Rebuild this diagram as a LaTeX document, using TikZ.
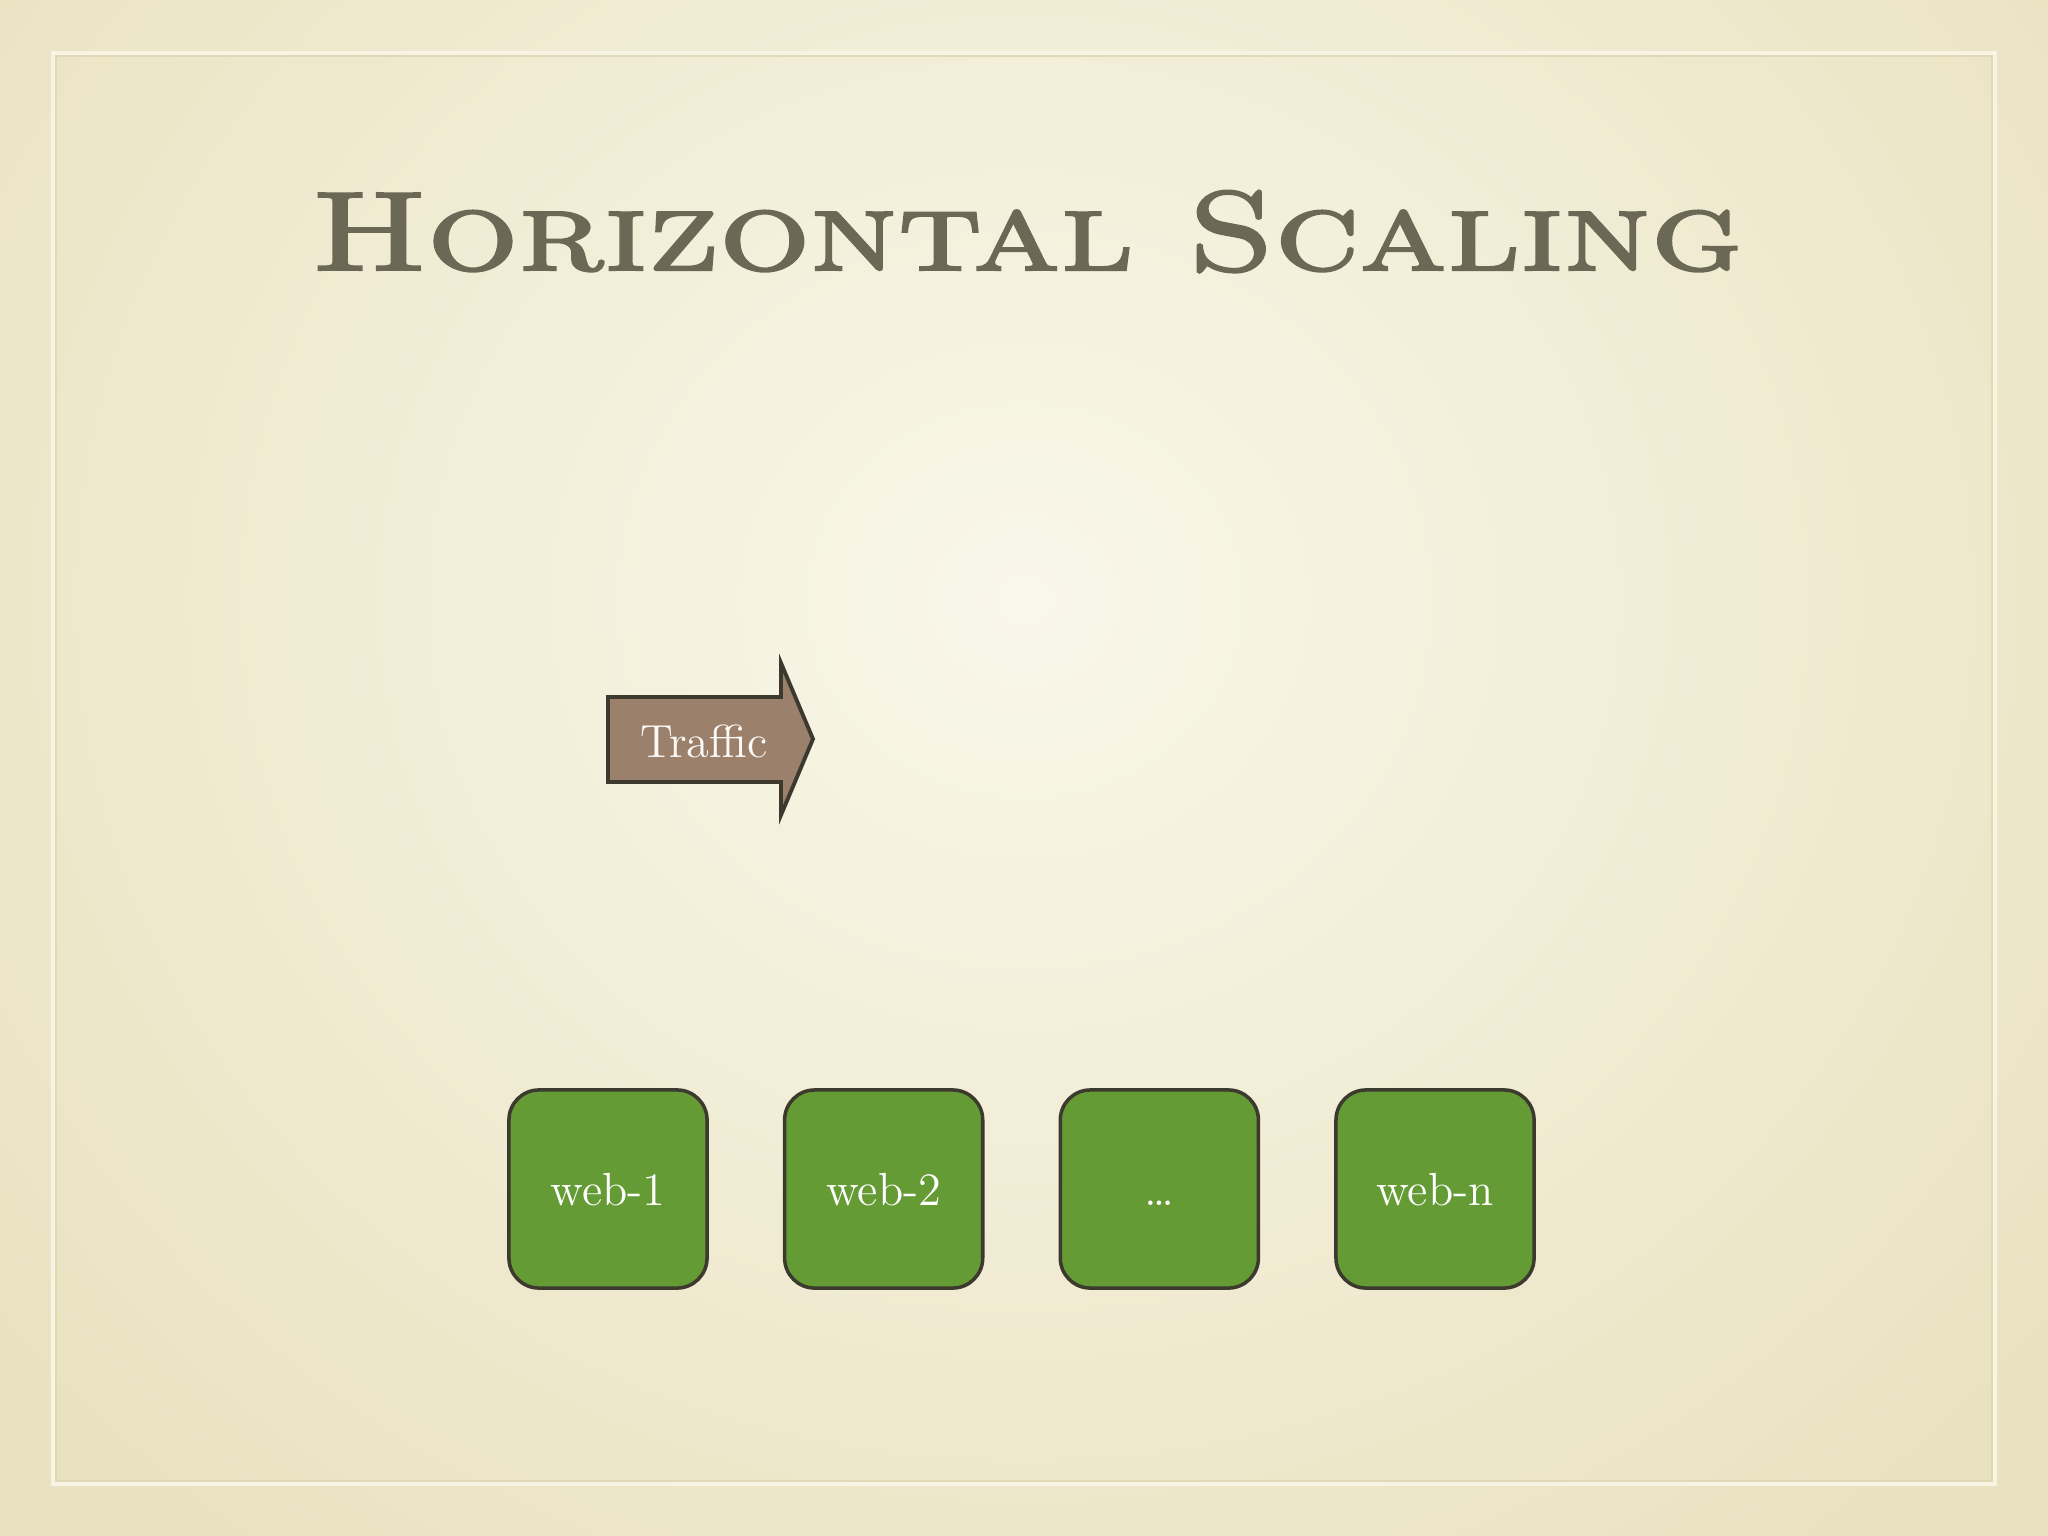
\documentclass[tikz,border=0pt]{standalone}
\usepackage{fontspec}
\newfontfamily\titlefont[FakeBold=2]{lmromancaps10-regular.otf}
\usetikzlibrary{positioning}
\definecolor{paper}{HTML}{F9F7EA}
\definecolor{paperedge}{HTML}{E9E2C0}
\definecolor{framelight}{HTML}{F7F4E4}
\definecolor{titlegray}{HTML}{6C6856}
\definecolor{webgreen}{HTML}{659B35}
\definecolor{outline}{HTML}{3C392E}
\definecolor{trafficbrown}{HTML}{9B806B}
\tikzset{
  webbox/.style={draw=outline, line width=1pt, fill=webgreen, rounded corners=0.3cm,
    minimum width=1.98cm, minimum height=1.98cm, inner sep=0pt,
    text=white, text height=9.2pt, text depth=0pt, font=\fontsize{13.2}{15}\selectfont},
  trafficarrow/.style={draw=outline, line width=1.1pt, fill=trafficbrown, line join=miter},
  traffictext/.style={text=white!95!brown, font=\fontsize{13.2}{15}\selectfont},
  titletext/.style={text=titlegray, font=\titlefont\fontsize{32}{36}\selectfont}
}
\begin{document}
\begin{tikzpicture}[x=0.01cm, y=-0.01cm]
    \useasboundingbox (0,0) rectangle (2048,1536);
    % background
    \begin{scope}
        \clip (0,0) rectangle (2048,1536);
        \shade[inner color=paper, outer color=paperedge] (-300,-600) rectangle (2348,1800);
    \end{scope}
    \draw [paperedge!80!black!20!paperedge, line width=0.5pt] (56,56) rectangle (1992,1481);
    \draw [framelight, line width=1.2pt] (53,53) rectangle (1995,1484);

    % title
    \node [titletext, anchor=base] (title) at (1027,270) {\scalebox{1.27}[1]{Horizontal Scaling}};

    % traffic arrow
    \draw [trafficarrow] (608,697) -- (781,697) -- (781,663) -- (813,739)
        -- (781,815) -- (781,782) -- (608,782) -- cycle;
    \node [traffictext, anchor=base] (traffic) at (704,757) {Traffic};

    % web servers
    \node [webbox] (web1) at (608,1189) {web-1};
    \node [webbox, right=0.74cm of web1] (web2) {web-2};
    \node [webbox, right=0.74cm of web2] (webdots) {\dots};
    \node [webbox, right=0.74cm of webdots] (webn) {web-n};
\end{tikzpicture}
\end{document}
